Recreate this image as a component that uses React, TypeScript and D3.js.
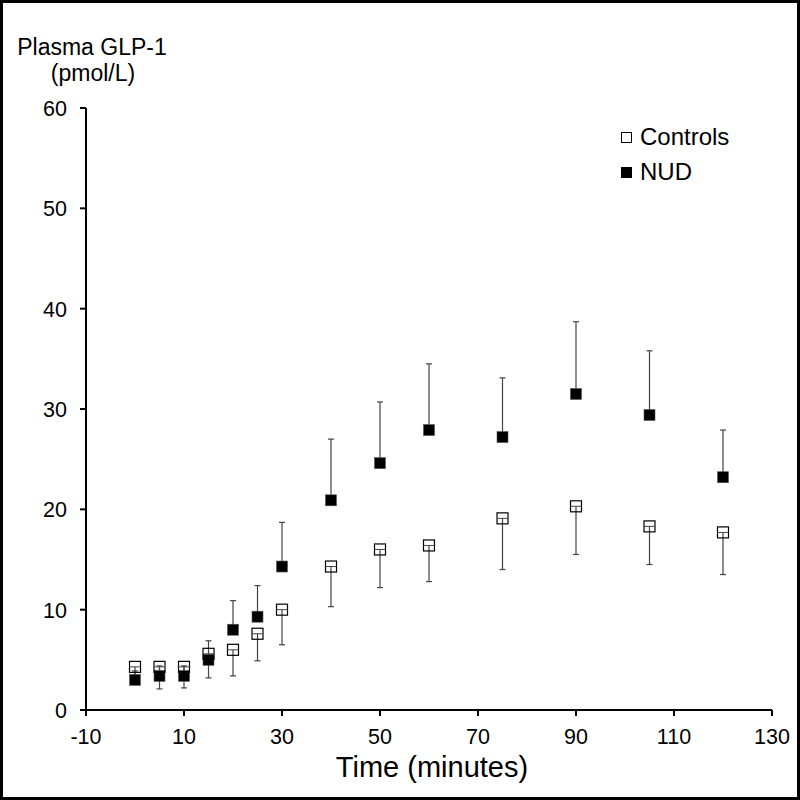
import { scaleLinear, range } from "d3";

const times = [0, 5, 10, 15, 20, 25, 30, 40, 50, 60, 75, 90, 105, 120];
const controls = [4.3, 4.3, 4.3, 5.6, 6.0, 7.6, 10.0, 14.3, 16.0, 16.4, 19.1, 20.3, 18.3, 17.7];
const controlsLow = [2.6, 2.1, 2.2, 3.2, 3.4, 4.9, 6.5, 10.3, 12.2, 12.8, 14.0, 15.5, 14.5, 13.5];
const nud = [3.0, 3.4, 3.4, 5.0, 8.0, 9.3, 14.3, 20.9, 24.6, 27.9, 27.2, 31.5, 29.4, 23.2];
const nudHigh = [3.9, 4.4, 4.4, 6.9, 10.9, 12.4, 18.7, 27.0, 30.7, 34.5, 33.1, 38.7, 35.8, 27.9];
const xTicks = [-10, 10, 30, 50, 70, 90, 110, 130];
const yTicks = [0, 10, 20, 30, 40, 50, 60];

const App = () => {
  const x = scaleLinear().domain([-10, 130]).range([86, 772]);
  const y = scaleLinear().domain([0, 60]).range([710, 108]);
  const sq = 11; // marker size
  const cap = 3;
  const font = "Arial, 'Liberation Sans', sans-serif";

  return (
    <div style={{ position: "fixed", left: 0, top: 0 }}>
      <svg width={800} height={800} style={{ display: "block", background: "#fff" }}>
        <rect x={1.5} y={1.5} width={797} height={797} fill="#fff" stroke="#000" strokeWidth={3} />

        {/* y axis title */}
        <text x={92} y={55} textAnchor="middle" fontFamily={font} fontSize={23}>Plasma GLP-1</text>
        <text x={93} y={81} textAnchor="middle" fontFamily={font} fontSize={23}>(pmol/L)</text>

        {/* axes */}
        <line x1={x(-10)} x2={x(-10)} y1={y(60)} y2={y(0)} stroke="#000" strokeWidth={2} />
        <line x1={x(-10)} x2={x(130)} y1={y(0)} y2={y(0)} stroke="#000" strokeWidth={2} />
        {yTicks.map((t) => (
          <g key={"y" + t}>
            <line x1={x(-10) - 6} x2={x(-10)} y1={y(t)} y2={y(t)} stroke="#000" strokeWidth={2} />
            <text x={67} y={y(t) + 8} textAnchor="end" fontFamily={font} fontSize={21.5}>{t}</text>
          </g>
        ))}
        {xTicks.map((t) => (
          <g key={"x" + t}>
            <line x1={x(t)} x2={x(t)} y1={y(0)} y2={y(0) + 6} stroke="#000" strokeWidth={2} />
            <text x={x(t)} y={744} textAnchor="middle" fontFamily={font} fontSize={21.5}>{t}</text>
          </g>
        ))}
        <text x={432} y={777} textAnchor="middle" fontFamily={font} fontSize={29}>Time (minutes)</text>

        {/* error bars: controls downward, NUD upward */}
        {range(times.length).map((i) => (
          <g key={"e" + i} stroke="#444" strokeWidth={1.2}>
            <line x1={x(times[i])} x2={x(times[i])} y1={y(controls[i])} y2={y(controlsLow[i])} />
            <line x1={x(times[i]) - cap} x2={x(times[i]) + cap} y1={y(controlsLow[i])} y2={y(controlsLow[i])} />
            <line x1={x(times[i])} x2={x(times[i])} y1={y(nud[i])} y2={y(nudHigh[i])} />
            <line x1={x(times[i]) - cap} x2={x(times[i]) + cap} y1={y(nudHigh[i])} y2={y(nudHigh[i])} />
          </g>
        ))}

        {/* NUD markers */}
        {times.map((t, i) => (
          <rect key={"n" + i} x={x(t) - sq / 2} y={y(nud[i]) - sq / 2} width={sq} height={sq} fill="#000" stroke="#555" strokeWidth={0.6} />
        ))}
        {/* control markers */}
        {times.map((t, i) => (
          <g key={"c" + i}>
            <rect x={x(t) - sq / 2} y={y(controls[i]) - sq / 2} width={sq} height={sq} fill="none" stroke="#000" strokeWidth={1.2} />
            <line x1={x(t) - sq / 2} x2={x(t) + sq / 2} y1={y(controls[i])} y2={y(controls[i])} stroke="#444" strokeWidth={1} />
          </g>
        ))}

        {/* legend */}
        <rect x={621.5} y={132.5} width={10} height={10} fill="#fff" stroke="#000" strokeWidth={1} />
        <text x={640} y={145} fontFamily={font} fontSize={24}>Controls</text>
        <rect x={621} y={167} width={11} height={11} fill="#000" />
        <text x={640} y={180} fontFamily={font} fontSize={24}>NUD</text>
      </svg>
    </div>
  );
};

export default App;
